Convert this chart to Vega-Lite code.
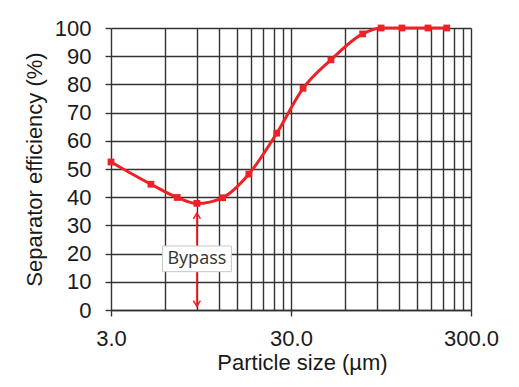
{
  "$schema": "https://vega.github.io/schema/vega-lite/v6.json",
  "autosize": {"type": "none"},
  "width": 360,
  "height": 282,
  "padding": {"left": 111, "top": 28, "right": 48, "bottom": 77},
  "background": "white",
  "config": {
    "font": "Liberation Sans",
    "view": {"stroke": null},
    "axis": {"labelFont": "Liberation Sans", "titleFont": "Liberation Sans", "labelColor": "#1a1a1a", "titleColor": "#1a1a1a", "titleFontWeight": "normal",
             "grid": true, "gridColor": "#333333", "gridWidth": 1.4, "gridOpacity": 1,
             "tickColor": "#333333", "tickWidth": 1.4, "labelFontSize": 22, "titleFontSize": 22, "labelFlush": false, "labelOverlap": false},
    "axisX": {"domainColor": "#333333", "domainWidth": 1.4, "labelPadding": 12, "titlePadding": 3},
    "axisY": {"domain": false, "tickSize": 6, "labelPadding": 14, "titlePadding": 8, "labelOverlap": false}
  },
  "datasets": {
    "curve": [
      {"size": 3, "eff": 52.5},
      {"size": 5, "eff": 44.6},
      {"size": 7, "eff": 39.9},
      {"size": 9, "eff": 37.8},
      {"size": 12.5, "eff": 39.8},
      {"size": 17.5, "eff": 48.2},
      {"size": 25, "eff": 62.7},
      {"size": 35, "eff": 78.6},
      {"size": 50, "eff": 88.7},
      {"size": 75, "eff": 97.9},
      {"size": 95, "eff": 100},
      {"size": 124, "eff": 100},
      {"size": 173, "eff": 100},
      {"size": 220, "eff": 100}
    ],
    "arrow": [{"size": 9, "eff": 1.2, "eff2": 34.4}],
    "heads": [
      {"size": 9, "eff": 34.4, "dir": "up"},
      {"size": 9, "eff": 1.2, "dir": "down"}
    ],
    "box": [{"size": 5.8, "size2": 14, "eff": 13.6, "eff2": 22.7}],
    "label": [{"size": 9, "eff": 18.2, "label": "Bypass"}]
  },
  "encoding": {
    "x": {"field": "size", "type": "quantitative",
          "scale": {"type": "log", "domain": [3, 300], "nice": false},
          "axis": {
            "values": [3, 6, 9, 12, 15, 18, 21, 24, 27, 30, 60, 90, 120, 150, 180, 210, 240, 270, 300],
            "labelExpr": "datum.value == 3 ? '3.0' : datum.value == 30 ? '30.0' : datum.value == 300 ? '300.0' : ''",
            "tickSize": {"condition": {"test": "datum.value == 3 || datum.value == 30 || datum.value == 300", "value": 6}, "value": 0},
            "labelOverlap": false,
            "title": "Particle size (µm)", "titleX": 191
          }},
    "y": {"field": "eff", "type": "quantitative",
          "scale": {"domain": [0, 100], "nice": false},
          "axis": {
            "values": [0, 10, 20, 30, 40, 50, 60, 70, 80, 90, 100],
            "labelOverlap": false,
            "title": "Separator efficiency (%)"
          }}
  },
  "layer": [
    {
      "data": {"name": "curve"},
      "mark": {"type": "line", "interpolate": "monotone", "color": "#ee2127", "strokeWidth": 3, "clip": false,
               "point": {"shape": "square", "size": 46, "filled": true, "color": "#ee2127", "opacity": 1}}
    },
    {
      "data": {"name": "arrow"},
      "mark": {"type": "rule", "color": "#ee2127", "strokeWidth": 1.5},
      "encoding": {
        "y2": {"field": "eff2"}
      }
    },
    {
      "data": {"name": "heads"},
      "mark": {"type": "point", "filled": false, "color": "#ee2127", "size": 49, "strokeWidth": 1.5, "opacity": 1},
      "encoding": {
        "shape": {"field": "dir", "type": "nominal", "scale": {"domain": ["up", "down"], "range": ["M-1,1.7L0,0L1,1.7", "M-1,-1.7L0,0L1,-1.7"]}, "legend": null}
      }
    },
    {
      "data": {"name": "box"},
      "mark": {"type": "rect", "fill": "white", "stroke": "#c8c8c8", "strokeWidth": 1},
      "encoding": {
        "x2": {"field": "size2"},
        "y2": {"field": "eff2"}
      }
    },
    {
      "data": {"name": "label"},
      "mark": {"type": "text", "font": "Open Sans", "fontSize": 18, "color": "#333333", "baseline": "middle", "align": "center"},
      "encoding": {
        "text": {"field": "label"}
      }
    }
  ]
}
